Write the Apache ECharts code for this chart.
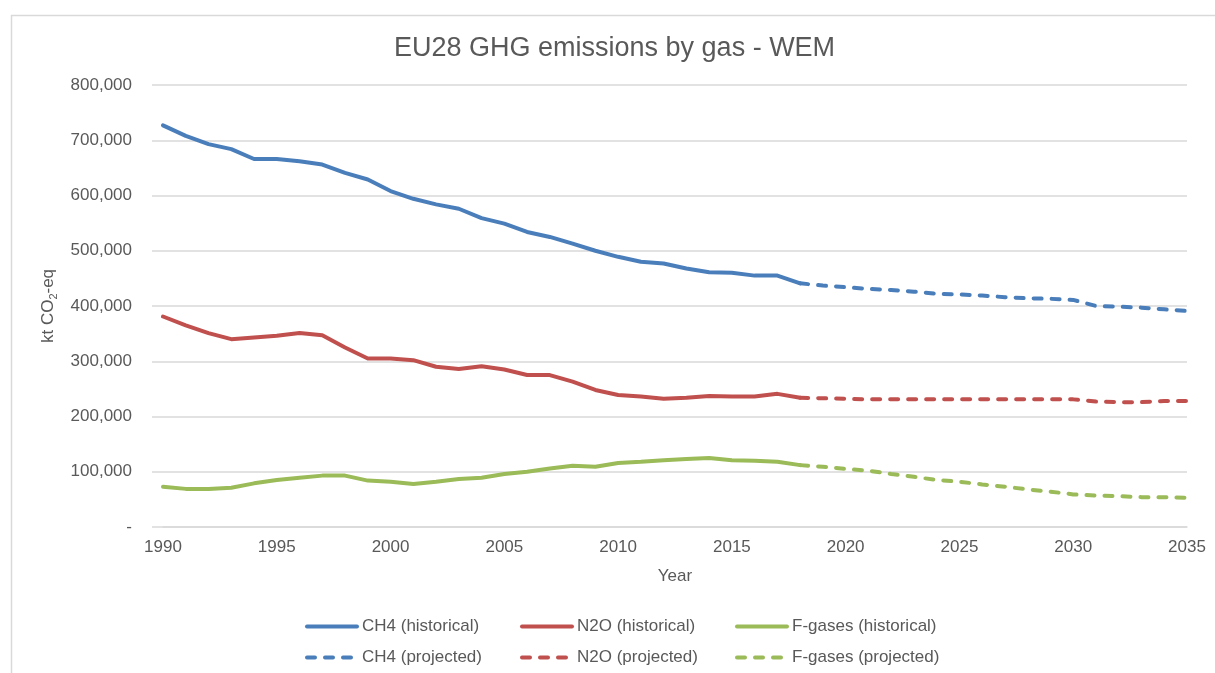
<!DOCTYPE html>
<html>
<head>
<meta charset="utf-8">
<title>EU28 GHG emissions by gas - WEM</title>
<script src="https://cdn.jsdelivr.net/npm/echarts@6/dist/echarts.min.js"></script>
<style>
  html, body { margin: 0; padding: 0; background: #fff; }
  #chart { width: 1215px; height: 673px; }
</style>
</head>
<body>
<div id="chart"></div>
<script>
// years
const histYears = [1990, 1991, 1992, 1993, 1994, 1995, 1996, 1997, 1998, 1999,
  2000, 2001, 2002, 2003, 2004, 2005, 2006, 2007, 2008, 2009,
  2010, 2011, 2012, 2013, 2014, 2015, 2016, 2017, 2018];
const projYears = [2018, 2019, 2020, 2021, 2022, 2023, 2024, 2025, 2026,
  2027, 2028, 2029, 2030, 2031, 2032, 2033, 2034, 2035];

// kt CO2-eq
const ch4Hist = [727000, 708000, 693000, 684000, 666000, 666000, 662000, 656000, 641000, 629000,
  608000, 594000, 584000, 576000, 559000, 549000, 534000, 525000, 513000, 500000,
  489000, 480000, 477000, 468000, 461000, 460000, 455000, 455000, 441000];
const ch4Proj = [441000, 437000, 434000, 431000, 429000, 426000, 422000, 421000, 419000,
  416000, 414000, 413000, 411000, 400000, 399000, 397000, 394000, 391000];

const n2oHist = [381000, 365000, 351000, 340000, 343000, 346000, 351000, 347000, 325000, 305000,
  305000, 302000, 290000, 286000, 291000, 285000, 275000, 275000, 263000, 248000,
  239000, 236000, 232000, 234000, 237000, 236000, 236000, 241000, 234000];
const n2oProj = [234000, 233000, 232000, 231000, 231000, 231000, 231000, 231000, 231000,
  231000, 231000, 231000, 231000, 227000, 226000, 226000, 228000, 228000];

const fgasHist = [73000, 69000, 69000, 71000, 79000, 85000, 89000, 93000, 93000, 84000,
  82000, 78000, 82000, 87000, 89000, 96000, 100000, 106000, 111000, 109000,
  116000, 118000, 121000, 123000, 125000, 121000, 120000, 118000, 112000];
const fgasProj = [112000, 109000, 105000, 102000, 96000, 91000, 85000, 82000, 77000,
  73000, 68000, 64000, 59000, 57000, 56000, 54000, 54000, 53000];

const seriesNames = ['CH4 (historical)', 'N2O (historical)', 'F-gases (historical)',
  'CH4 (projected)', 'N2O (projected)', 'F-gases (projected)'];

const FONT = "'Liberation Sans', Arial, sans-serif";
const TEXT = '#595959';
const GRID = '#d9d9d9';
const BLUE = '#4a7ebb', RED = '#c0504d', GREEN = '#9bbb59';

function pairs(years, vals) {
  return years.map((y, i) => [y, vals[i]]);
}

function makeLine(name, years, vals, color, dashed) {
  return {
    name: name,
    type: 'line',
    data: pairs(years, vals),
    symbol: 'none',
    smooth: false,
    lineStyle: {
      color: color,
      width: 4,
      type: dashed ? [8, 10] : 'solid',
      cap: 'round',
      join: 'round'
    },
    itemStyle: { color: color },
    z: dashed ? 2 : 3
  };
}

// one legend per item so the columns line up like the original
const legendCols = [300, 515, 730];
const legendRows = [613, 644];
const legends = seriesNames.map((n, i) => ({
  data: [n],
  left: legendCols[i % 3],
  top: legendRows[Math.floor(i / 3)],
  itemWidth: 50,
  itemHeight: 14,
  itemGap: 0,
  itemStyle: { opacity: 0 },
  lineStyle: { width: 4, cap: 'round' },
  textStyle: { color: TEXT, fontSize: 17, fontFamily: FONT },
  selectedMode: false
}));

let chart = echarts.init(document.getElementById('chart'));
let option = {
  backgroundColor: '#fff',
  animation: false,
  title: {
    text: 'EU28 GHG emissions by gas - WEM',
    left: 389,
    top: 30,
    textStyle: { color: TEXT, fontSize: 27, fontWeight: 'normal', fontFamily: FONT }
  },
  graphic: [{
    type: 'rect',
    shape: { x: 11.5, y: 15.5, width: 1230, height: 700 },
    style: { fill: 'none', stroke: GRID, lineWidth: 1.5 },
    silent: true
  }],
  legend: legends,
  grid: { left: 163, right: 28, top: 85, bottom: 146, containLabel: false },
  xAxis: {
    type: 'value',
    min: 1990,
    max: 2035,
    interval: 5,
    name: 'Year',
    nameLocation: 'middle',
    nameGap: 41,
    nameTextStyle: { color: TEXT, fontSize: 17, fontFamily: FONT },
    axisLine: { show: true, lineStyle: { color: GRID, width: 1.5 } },
    axisTick: { show: false },
    splitLine: { show: false },
    axisLabel: { color: TEXT, fontSize: 17, fontFamily: FONT, margin: 12, formatter: v => String(v) }
  },
  yAxis: {
    type: 'value',
    min: 0,
    max: 800000,
    interval: 100000,
    name: '{a|kt CO}{b|2}{a|-eq}',
    nameLocation: 'middle',
    nameGap: 103,
    nameRotate: 90,
    nameTextStyle: {
      color: TEXT,
      fontFamily: FONT,
      rich: {
        a: { fontSize: 17, color: TEXT, fontFamily: FONT, lineHeight: 22 },
        b: { fontSize: 11, color: TEXT, fontFamily: FONT, lineHeight: 14, verticalAlign: 'bottom' }
      }
    },
    axisLine: { show: false },
    axisTick: { show: true, length: 11, lineStyle: { color: GRID, width: 1.5 } },
    splitLine: { show: true, lineStyle: { color: GRID, width: 1.5 } },
    axisLabel: {
      color: TEXT, fontSize: 17, fontFamily: FONT, margin: 31,
      formatter: v => v === 0 ? '-' : v.toLocaleString('en-US')
    }
  },
  series: [
    makeLine(seriesNames[0], histYears, ch4Hist, BLUE, false),
    makeLine(seriesNames[1], histYears, n2oHist, RED, false),
    makeLine(seriesNames[2], histYears, fgasHist, GREEN, false),
    makeLine(seriesNames[3], projYears, ch4Proj, BLUE, true),
    makeLine(seriesNames[4], projYears, n2oProj, RED, true),
    makeLine(seriesNames[5], projYears, fgasProj, GREEN, true)
  ]
};
chart.setOption(option);
</script>
</body>
</html>
